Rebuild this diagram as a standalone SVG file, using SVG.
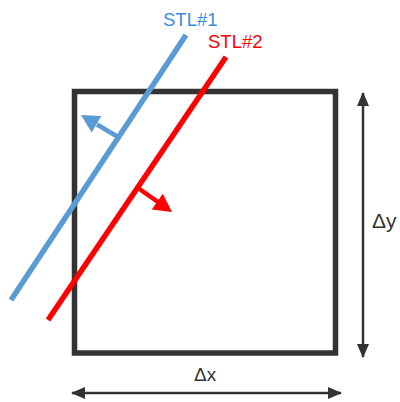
<svg xmlns="http://www.w3.org/2000/svg" width="400" height="402" viewBox="0 0 400 402">
<defs>
<style>
.lbl{font-family:"Liberation Sans",Arial,sans-serif}
.dim{stroke:#333;stroke-width:2.5;fill:none}
</style>
<marker id="dimA" markerUnits="userSpaceOnUse" markerWidth="14" markerHeight="12" refX="13" refY="6" orient="auto-start-reverse" viewBox="0 0 14 12">
<path d="M0,0 L14,6 L0,12 z" fill="#333"/>
</marker>
</defs>
<rect x="0" y="0" width="400" height="402" fill="#fff"/>
<g id="box">
<rect x="74.5" y="91.5" width="261" height="261.5" fill="none" stroke="#333" stroke-width="5.5"/>
</g>
<g id="stl1">
<line x1="186" y1="35" x2="11" y2="300" stroke="#5B9BD5" stroke-width="5.5"/>
<text class="lbl" x="163" y="26" font-size="18.5" fill="#3A8DDE">STL#1</text>
</g>
<g id="stl2">
<line x1="226" y1="57" x2="48" y2="320" stroke="#FF0000" stroke-width="5.5"/>
<text class="lbl" x="208" y="48" font-size="18.5" fill="#FF0000">STL#2</text>
</g>
<g id="connectors">
<line x1="118" y1="137" x2="97" y2="124.5" stroke="#5B9BD5" stroke-width="4.5"/>
<polygon points="81,115 101.3,116 91.7,132.4" fill="#5B9BD5"/>
<line x1="138" y1="188" x2="158" y2="202" stroke="#FF0000" stroke-width="4.5"/>
<polygon points="172,212 151.8,209.4 162.8,193.8" fill="#FF0000"/>
<line class="dim" x1="363" y1="93" x2="363" y2="357" marker-start="url(#dimA)" marker-end="url(#dimA)"/>
<line class="dim" x1="72" y1="393" x2="341" y2="393" marker-start="url(#dimA)" marker-end="url(#dimA)"/>
</g>
<g id="dy">
<text class="lbl" x="372" y="228" font-size="21" fill="#333">Δy</text>
</g>
<g id="dx">
<text class="lbl" x="194" y="381" font-size="19" fill="#333">Δx</text>
</g>
</svg>
